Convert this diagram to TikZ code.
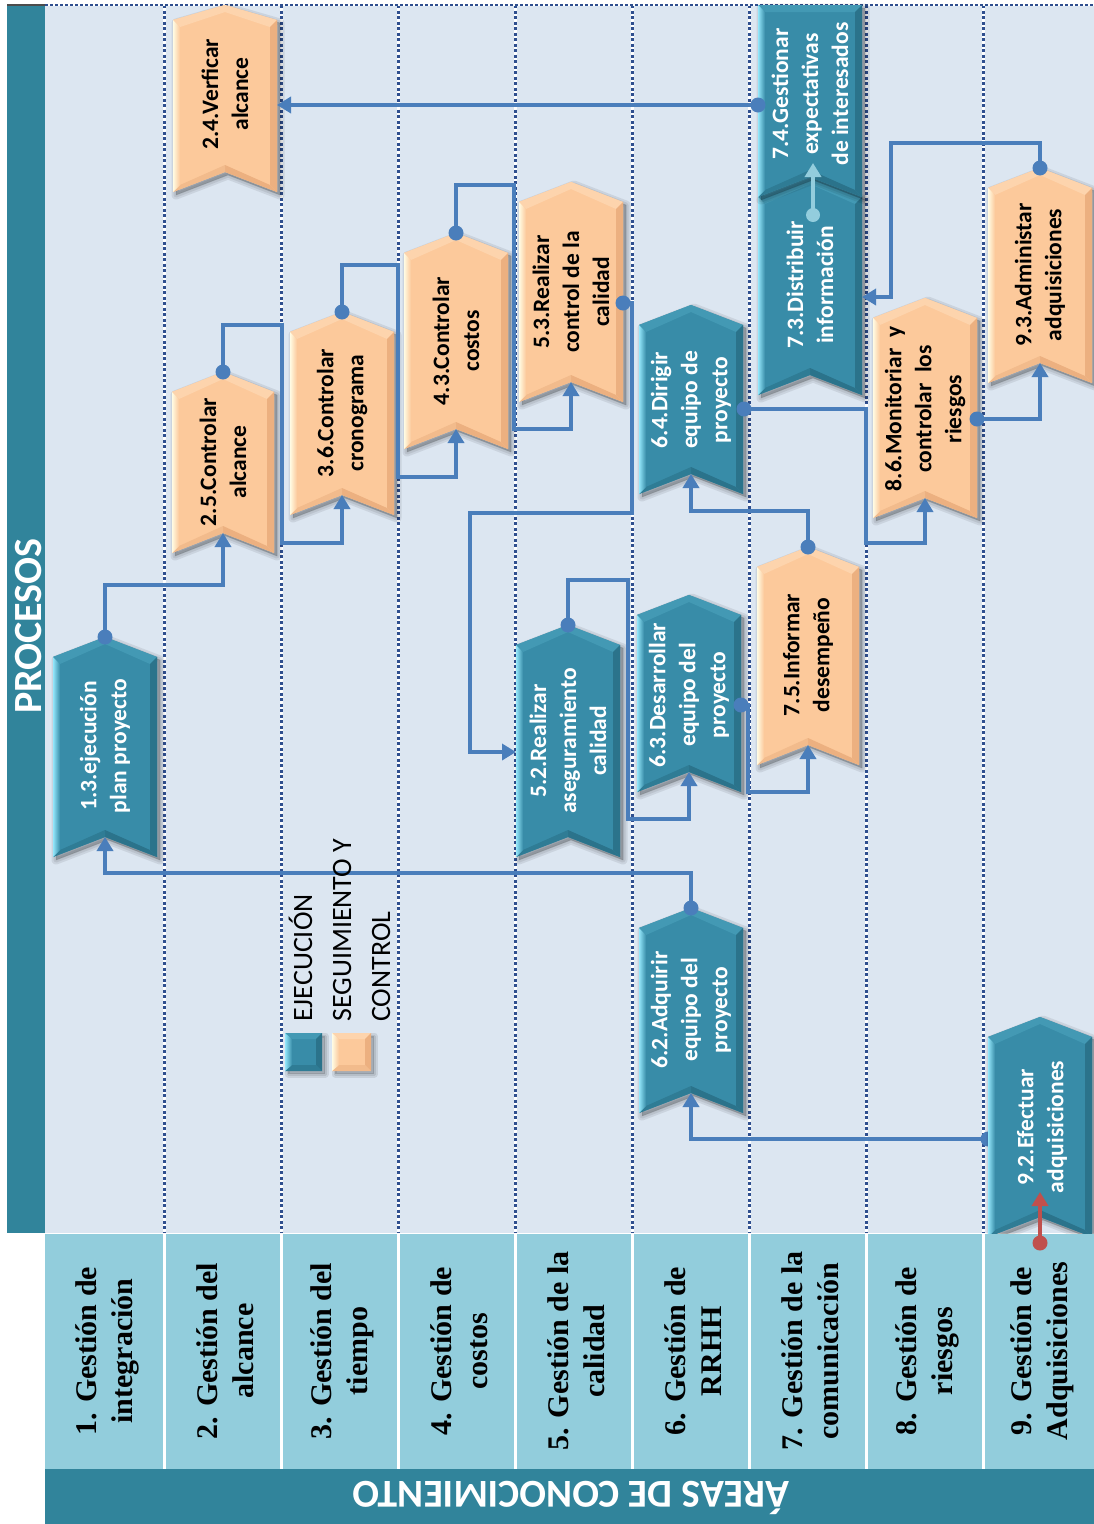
\documentclass[tikz,border=0pt]{standalone}
\usepackage{fontspec}
\setmainfont{Carlito}
\newfontfamily\carl{Carlito}
\newfontfamily\tnr{Liberation Serif}
\usetikzlibrary{arrows.meta}

\definecolor{barTeal}{HTML}{31849B}
\definecolor{paneBg}{HTML}{DCE6F1}
\definecolor{cellBg}{HTML}{92CDDC}
\definecolor{sepBlue}{HTML}{2F4F8F}
\definecolor{lineBlue}{HTML}{4A7EBB}
\definecolor{lightLink}{HTML}{93CDDD}
\definecolor{redLink}{HTML}{C0504D}
\definecolor{tealMain}{HTML}{388CA8}
\definecolor{tealLite}{HTML}{93E6FA}
\definecolor{tealTop}{HTML}{4399B4}
\definecolor{tealDark}{HTML}{2B738B}
\definecolor{tealBot}{HTML}{2F7C95}
\definecolor{peachMain}{HTML}{FCC99B}
\definecolor{peachLite}{HTML}{FFFBE3}
\definecolor{peachTop}{HTML}{FDD4AD}
\definecolor{peachDark}{HTML}{ECB080}
\definecolor{peachBot}{HTML}{F2BB8C}

\tikzset{
  proc/.style={rotate=90, align=center, inner sep=0pt,
    font=\carl\bfseries\fontsize{23.5}{30}\selectfont},
  onteal/.style={proc, text=white},
  onpeach/.style={proc, text=black},
  area/.style={rotate=90, align=center, inner sep=0pt,
    font=\tnr\bfseries\fontsize{30}{36}\selectfont},
  legtext/.style={rotate=90, anchor=base west, inner sep=0pt,
    font=\carl\fontsize{28}{34}\selectfont},
  link/.style={draw=lineBlue, line width=3.5pt, -{Triangle[width=16pt,length=14pt]}},
  knob/.style={fill=lineBlue},
}

% chevron: name, kind, left x, right x, top corner y, bottom corner y, top point depth
\newcommand\chevron[7]{%
  \pgfmathsetmacro\chvM{(#3+#4)/2}%
  \pgfmathsetmacro\chvT{#5-#7}%
  \pgfmathsetmacro\chvN{#6-20}%
  \pgfmathsetmacro\chvLi{#3+7}%
  \pgfmathsetmacro\chvRi{#4-7}%
  \pgfmathsetmacro\chvAi{#5+7}%
  \pgfmathsetmacro\chvTi{\chvT+7}%
  \pgfmathsetmacro\chvBi{#6-7}%
  \pgfmathsetmacro\chvNi{\chvN-7}%
  \begin{scope}[shift={(3,3)}]
    \foreach \w in {9,5,1}{%
      \filldraw[black, opacity=0.08, line width=\w pt, line join=round]
        (#3,#5) -- (\chvM,\chvT) -- (#4,#5) -- (#4,#6) -- (\chvM,\chvN) -- (#3,#6) -- cycle;}
  \end{scope}
  \fill[#2Main] (#3,#5) -- (\chvM,\chvT) -- (#4,#5) -- (#4,#6) -- (\chvM,\chvN) -- (#3,#6) -- cycle;
  \fill[#2Top] (#3,#5) -- (\chvM,\chvT) -- (\chvM,\chvTi) -- (\chvLi,\chvAi) -- cycle;
  \fill[#2Top] (\chvM,\chvT) -- (#4,#5) -- (\chvRi,\chvAi) -- (\chvM,\chvTi) -- cycle;
  \fill[#2Dark] (#4,#5) -- (#4,#6) -- (\chvRi,\chvBi) -- (\chvRi,\chvAi) -- cycle;
  \fill[#2Dark] (#4,#6) -- (\chvM,\chvN) -- (\chvM,\chvNi) -- (\chvRi,\chvBi) -- cycle;
  \fill[#2Bot] (\chvM,\chvN) -- (#3,#6) -- (\chvLi,\chvBi) -- (\chvM,\chvNi) -- cycle;
  \shade[left color=#2Lite, right color=#2Main]
    (#3,#5) -- (\chvLi,\chvAi) -- (\chvLi,\chvBi) -- (#3,#6) -- cycle;
  \coordinate (#1-tip) at (\chvM,\chvT);
  \coordinate (#1-notch) at (\chvM,\chvN);
}

% bevelled legend swatch: kind, left, top, right, bottom
\newcommand\swatch[5]{%
  \begin{scope}[shift={(3,3)}]
    \foreach \w in {7,3}{%
      \filldraw[black, opacity=0.09, line width=\w pt, line join=round] (#2,#3) rectangle (#4,#5);}
  \end{scope}
  \fill[#1Main] (#2,#3) rectangle (#4,#5);
  \fill[#1Top] (#2,#3) -- (#4,#3) -- (#4-6,#3+6) -- (#2+7,#3+6) -- cycle;
  \fill[#1Dark] (#4,#3) -- (#4,#5) -- (#4-6,#5-6) -- (#4-6,#3+6) -- cycle;
  \fill[#1Bot] (#2,#5) -- (#4,#5) -- (#4-6,#5-6) -- (#2+7,#5-6) -- cycle;
  \shade[left color=#1Lite, right color=#1Main] (#2,#3) -- (#2+7,#3+6) -- (#2+7,#5-6) -- (#2,#5) -- cycle;
}

\begin{document}
\begin{tikzpicture}[x=1pt,y=-1pt]
\useasboundingbox (0,0) rectangle (1094,1524);
\fill[white] (0,0) rectangle (1094,1524);

% process pane and side bar
\fill[paneBg] (45,5) rectangle (1094,1233);
\fill[barTeal] (7,5) rectangle (45,1233);
\draw[gray!60!black, line width=2pt] (7,5) -- (45,5);
\node[rotate=90, text=white, inner sep=0pt, font=\carl\bfseries\fontsize{40}{48}\selectfont]
  (procesos) at (29,626) {PROCESOS};

% dotted lane separators
\foreach \x in {164,281,398,515,632,749,866,983}{%
  \draw[white, line width=3pt] (\x,5) -- (\x,1233);
  \draw[sepBlue, line width=3pt, dash pattern=on 3pt off 2.5pt] (\x,5) -- (\x,1233);}
\draw[white, line width=2pt] (45,5) -- (1094,5);
\draw[sepBlue, line width=2pt, dash pattern=on 3pt off 2pt] (45,5) -- (1094,5);

% process chevrons
\chevron{p13}{teal}{53}{157}{657}{857}{20}
\chevron{p24}{peach}{173}{277}{20}{192}{15}
\chevron{p25}{peach}{172}{274}{392}{553}{20}
\chevron{p36}{peach}{290}{394}{332}{515}{20}
\chevron{p43}{peach}{404}{508}{253}{449}{20}
\chevron{p53}{peach}{519}{623}{202}{402}{20}
\chevron{p52}{teal}{516}{620}{645}{857}{20}
\chevron{p63}{teal}{637}{741}{615}{792}{20}
\chevron{p64}{teal}{639}{743}{325}{494}{20}
\chevron{p62}{teal}{639}{743}{928}{1113}{20}
\chevron{p73}{teal}{758}{862}{197}{395}{20}
\chevron{p74}{teal}{758}{862}{5}{197}{0}
\chevron{p75}{peach}{757}{859}{567}{765}{20}
\chevron{p86}{peach}{873}{977}{318}{518}{20}
\chevron{p93}{peach}{988}{1092}{188}{383}{20}

\node[onteal] (n13) at (105,746) {1.3.ejecución\\plan proyecto};
\node[onpeach] (n24) at (225,94) {2.4.Verficar\\alcance};
\node[onpeach] (n25) at (223,462) {2.5.Controlar\\alcance};
\node[onpeach] (n36) at (342,413) {3.6.Controlar\\cronograma};
\node[onpeach] (n43) at (456,341) {4.3.Controlar\\costos};
\node[onpeach] (n53) at (571,292) {5.3.Realizar\\control de la\\calidad};
\node[onteal] (n52) at (568,741) {5.2.Realizar\\aseguramiento\\calidad};
\node[onteal] (n63) at (689,695) {6.3.Desarrollar\\equipo del\\proyecto};
\node[onteal] (n64) at (691,400) {6.4.Dirigir\\equipo de\\proyecto};
\node[onteal] (n62) at (691,1010) {6.2.Adquirir\\equipo del\\proyecto};
\node[onteal] (n73) at (810,285) {7.3.Distribuir\\información};
\node[onteal] (n74) at (810,94) {7.4.Gestionar\\expectativas\\de interesados};
\node[onpeach] (n75) at (808,655) {7.5.Informar\\desempeño};
\node[onpeach] (n86) at (925,409) {8.6.Monitoriar\ \ y\\controlar\ \ los\\riesgos};
\node[onpeach] (n93) at (1040,275) {9.3.Administar\\adquisiciones};

% connector end points on shape sides
\coordinate (p53-r) at (623,303);
\coordinate (p52-l) at (516,752);
\coordinate (p63-r) at (741,705);
\coordinate (p64-r) at (744,409);
\coordinate (p86-r) at (977,419);
\coordinate (p73-r) at (862,297);
\coordinate (p74-l) at (758,105);
\coordinate (p24-r) at (277,105);
\coordinate (p92-l) at (988,1139);
\coordinate (p73-in) at (813,215);
\coordinate (p74-in) at (813,163);
\coordinate (p92-base) at (1040,1243);
\coordinate (p92-in) at (1040,1192);

% process flow
\draw[link] (p13-tip) -- ++(0,-52) -| (p25-notch);
\draw[link] (p25-tip) |- (282,325) -- (282,543) -| (p36-notch);
\draw[link] (p36-tip) |- (398,265) -- (398,477) -| (p43-notch);
\draw[link] (p43-tip) |- (514,185) -- (514,429) -| (p53-notch);
\draw[link] (p53-r) -| (632,513) -| (470,752) -- (p52-l);
\draw[link] (p52-tip) |- (628,580) -- (628,819) -| (p63-notch);
\draw[link] (p63-r) -| (748,792) -| (p75-notch);
\draw[link] (p75-tip) -- ++(0,-36) -| (p64-notch);
\draw[link] (p64-r) -| (866,543) -| (p86-notch);
\draw[link] (p86-r) -| (p93-notch);
\draw[link] (p93-tip) |- (891,143) |- (p73-r);
\draw[link] (p74-l) -- (p24-r);
\draw[link] (p62-tip) -- ++(0,-35) -| (p13-notch);
\draw[link] (p92-l) -| (p62-notch);
\foreach \p in {p13-tip,p25-tip,p36-tip,p43-tip,p53-r,p52-tip,p63-r,p75-tip,
                p64-r,p86-r,p93-tip,p74-l,p62-tip,p92-l}
  \fill[knob] (\p) circle[radius=7.5pt];

% link inside the communication lane
\draw[link, draw=lightLink] (p73-in) -- (p74-in);
\fill[lightLink] (p73-in) circle[radius=7pt];

% procurement start (drawn over its link dot)
\chevron{p92}{teal}{988}{1092}{1037}{1237}{20}
\node[onteal] (n92) at (1042,1127) {9.2.Efectuar\\adquisiciones};

% knowledge area cells
\fill[cellBg] (45,1234) rectangle (1094,1469);
\foreach \x in {164,281,398,515,632,749,866,983}
  \draw[white, line width=3pt] (\x,1234) -- (\x,1469);
\node[area] (a1) at (107,1351) {1. Gestión de\\integración};
\node[area] (a2) at (225,1351) {2. Gestión del\\alcance};
\node[area] (a3) at (342,1351) {3. Gestión del\\tiempo};
\node[area] (a4) at (459,1351) {4. Gestión de\\costos};
\node[area] (a5) at (576,1351) {5. Gestión de la\\calidad};
\node[area] (a6) at (693,1351) {6. Gestión de\\RRHH};
\node[area] (a7) at (810,1351) {7. Gestión de la\\comunicación};
\node[area] (a8) at (927,1351) {8. Gestión de\\riesgos};
\node[area] (a9) at (1042,1351) {9. Gestión de\\Adquisiciones};

\fill[barTeal] (45,1469) rectangle (1094,1524);
\node[rotate=180, text=white, inner sep=0pt, font=\carl\bfseries\fontsize{39.5}{46}\selectfont]
  (areas) at (571,1498) {ÁREAS DE CONOCIMIENTO};

% incoming trigger for 9.2
\draw[link, draw=redLink] (p92-base) -- (p92-in);
\fill[redLink] (p92-base) circle[radius=7.5pt];

% legend
\swatch{teal}{285}{1033}{322}{1071}
\swatch{peach}{332}{1033}{371}{1071}
\node[legtext] (lg-ej) at (312,1022) {EJECUCIÓN};
\node[legtext] (lg-sc1) at (351,1022) {SEGUIMIENTO Y};
\node[legtext] (lg-sc2) at (390,1022) {CONTROL};
\end{tikzpicture}
\end{document}
